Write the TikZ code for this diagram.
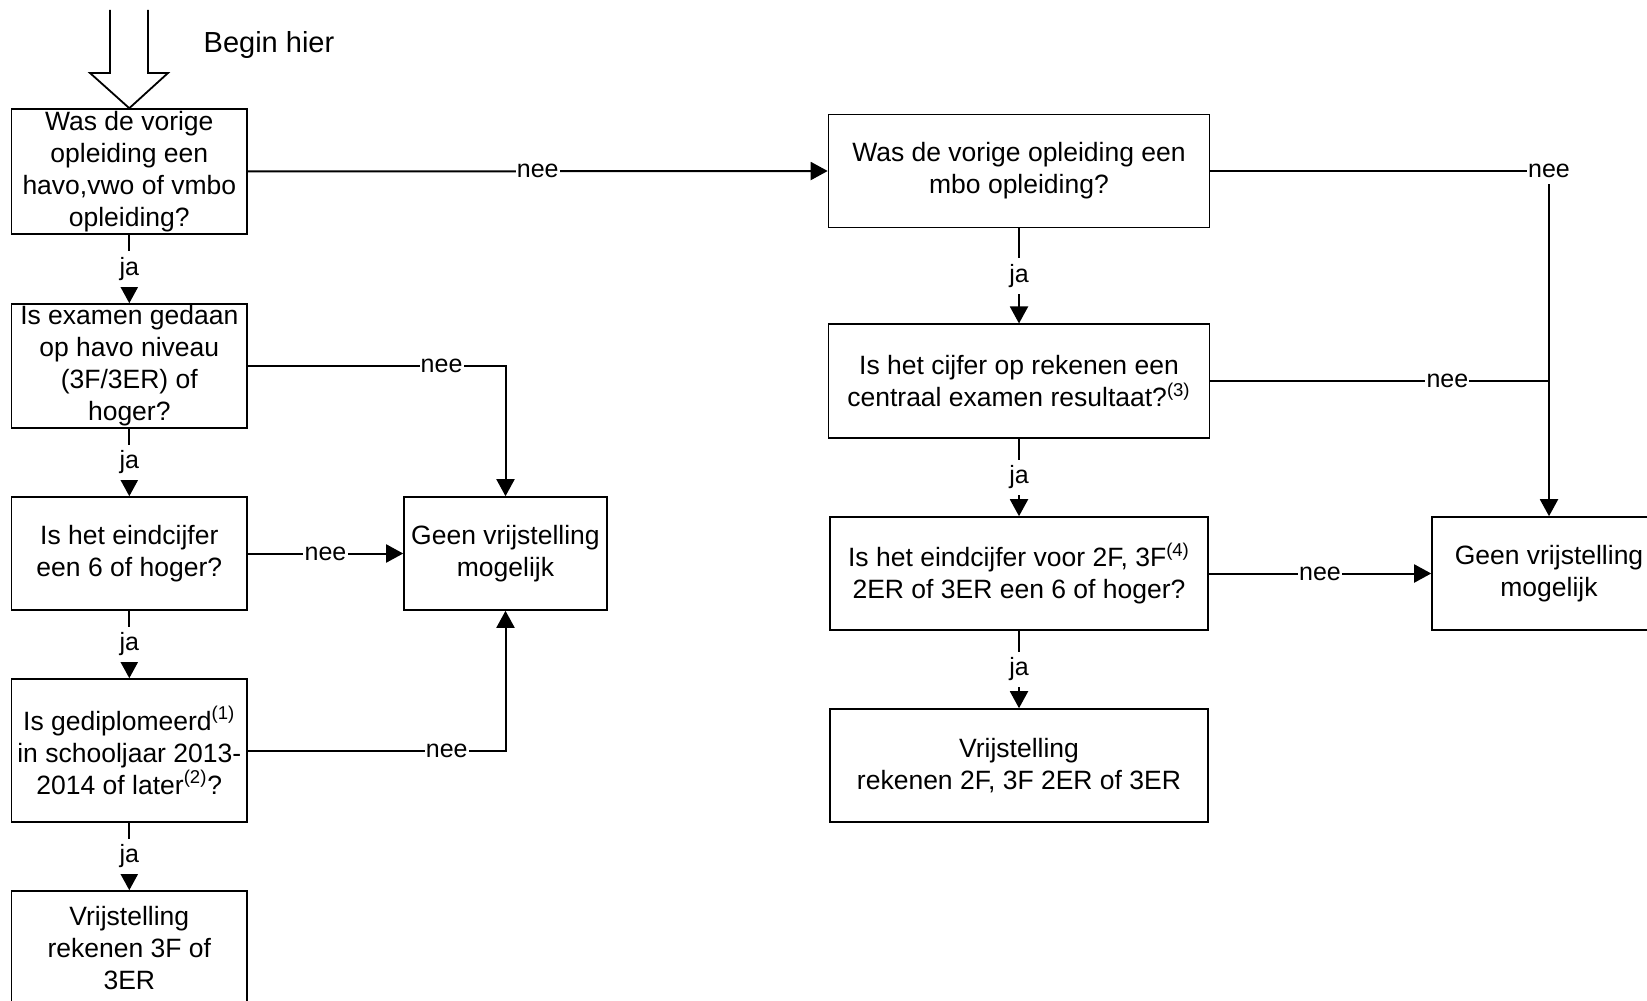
\documentclass[tikz,border=0pt]{standalone}
\usepackage{fontspec}
\setmainfont{Liberation Sans}
\usetikzlibrary{arrows.meta}

\begin{document}
\begin{tikzpicture}[x=0.5pt,y=-0.5pt,
  box/.style={draw, line width=0.8pt, inner sep=0pt, align=center, font=\fontsize{13.25}{16}\selectfont},
  lbl/.style={fill=white, inner xsep=0.6pt, inner ysep=3pt, font=\fontsize{12.5}{15}\selectfont},
  pijl/.style={line width=1pt, -{Triangle[length=8.5pt,width=9pt]}},
  lijn/.style={line width=1pt}]
\useasboundingbox (0,0) rectangle (1647,1000);
\clip (0,0) rectangle (1647,1000);
\node[box, minimum width=117.7pt, minimum height=62.5pt] (havo) at (129.3,171.5) {Was de vorige\\opleiding een\\havo,vwo of vmbo\\opleiding?};
\node[box, minimum width=117.7pt, minimum height=62pt] (niveau) at (129.3,366) {Is examen gedaan\\op havo niveau\\(3F/3ER) of\\hoger?};
\node[box, minimum width=117.7pt, minimum height=56.5pt] (cijfer) at (129.3,553.5) {Is het eindcijfer\\een 6 of hoger?};
\node[box, minimum width=117.7pt, minimum height=71.5pt] (diploma) at (129.3,750.5) {Is gediplomeerd\textsuperscript{(1)}\\in schooljaar 2013-\\2014 of later\textsuperscript{(2)}?};
\node[box, minimum width=117.7pt, minimum height=57pt] (vrijL) at (129.3,948) {Vrijstelling\\rekenen 3F of\\3ER};
\node[box, minimum width=101.5pt, minimum height=56.5pt] (geenL) at (505.5,553.5) {Geen vrijstelling\\mogelijk};
\node[box, minimum width=190.5pt, minimum height=56.5pt] (mbo) at (1019,171) {Was de vorige opleiding een\\mbo opleiding?};
\node[box, minimum width=190.5pt, minimum height=56.75pt] (centraal) at (1019,381) {Is het cijfer op rekenen een\\centraal examen resultaat?\textsuperscript{(3)}};
\node[box, minimum width=189pt, minimum height=56.5pt] (eind) at (1019,573.5) {Is het eindcijfer voor 2F, 3F\textsuperscript{(4)}\\2ER of 3ER een 6 of hoger?};
\node[box, minimum width=189pt, minimum height=56.5pt] (vrijR) at (1019,765.5) {Vrijstelling\\rekenen 2F, 3F 2ER of 3ER};
\node[box, minimum width=117pt, minimum height=56.5pt] (geenR) at (1549,573.5) {Geen vrijstelling\\mogelijk};
\node[font=\fontsize{14.5}{17}\selectfont] (begin) at (269,45) {Begin hier};
\draw[line width=0.9pt] (110,10) -- (110,73) -- (90,73) -- (havo.north) -- (168,73) -- (148,73) -- (148,10);
\draw[pijl] (havo.south) -- node[lbl]{ja} (niveau.north);
\draw[pijl] (niveau.south) -- node[lbl]{ja} (cijfer.north);
\draw[pijl] (cijfer.south) -- node[lbl]{ja} (diploma.north);
\draw[pijl] (diploma.south) -- node[lbl]{ja} (vrijL.north);
\draw[pijl] (havo.east) -- node[lbl]{nee} (mbo.west);
\draw[pijl] (niveau.east) -| node[lbl,pos=0.376]{nee} (geenL.north);
\draw[pijl] (cijfer.east) -- node[lbl]{nee} (geenL.west);
\draw[pijl] (diploma.east) -| node[lbl,pos=0.386]{nee} (geenL.south);
\draw[pijl] (mbo.south) -- node[lbl]{ja} (centraal.north);
\draw[pijl] (centraal.south) -- node[lbl]{ja} (eind.north);
\draw[pijl] (eind.south) -- node[lbl]{ja} (vrijR.north);
\draw[pijl] (mbo.east) -| node[lbl]{nee} (geenR.north);
\draw[lijn] (centraal.east) -- node[lbl,pos=0.70]{nee} (centraal.east -| geenR.north);
\draw[pijl] (eind.east) -- node[lbl]{nee} (geenR.west);
\end{tikzpicture}
\end{document}
